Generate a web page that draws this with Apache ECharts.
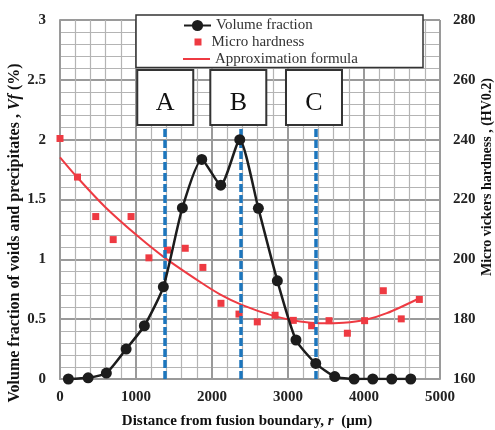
<!DOCTYPE html>
<html>
<head>
<meta charset="utf-8">
<script src="https://cdn.jsdelivr.net/npm/echarts@6/dist/echarts.min.js"></script>
<style>
  html, body { margin: 0; padding: 0; background: #fff; }
  #chart { width: 495px; height: 430px; }
</style>
</head>
<body>
<div id="chart"></div>
<script>
// Volume fraction of voids and precipitates (%) vs distance from fusion boundary (um)
const volR  = [110, 370, 610, 870, 1110, 1360, 1610, 1865, 2115, 2365, 2610, 2860, 3105, 3365, 3615, 3870, 4115, 4365, 4615];
const volVf = [0.0, 0.01, 0.05, 0.25, 0.445, 0.77, 1.43, 1.835, 1.62, 2.0, 1.426, 0.82, 0.326, 0.13, 0.02, 0.0, 0.0, 0.0, 0.0];

// Micro Vickers hardness (HV0.2)
const hardR  = [0, 230, 470, 700, 935, 1170, 1415, 1648, 1880, 2118, 2355, 2596, 2830, 3070, 3311, 3540, 3781, 4008, 4254, 4490, 4728];
const hardHV = [240.4, 227.5, 214.3, 206.6, 214.3, 200.5, 203.1, 203.7, 197.3, 185.3, 181.7, 179.1, 181.3, 179.6, 177.8, 179.5, 175.3, 179.5, 189.5, 180.1, 186.6];

// Approximation formula curve for the hardness
const fitR  = [0, 220, 590, 1030, 1380, 1840, 2105, 2400, 2810, 3160, 3420, 3730, 4010, 4300, 4730];
const fitHV = [234.1, 227.6, 217.6, 207.6, 200.5, 192.5, 188.3, 184.7, 181.1, 179.2, 178.6, 178.8, 179.7, 182.0, 187.0];

// Zone markers A, B, C
const zoneNames = ['A', 'B', 'C'];
const zoneLineR = [1382, 2382, 3368];
const zoneBoxR  = [1385, 2346, 3342];
const zoneLineTop = 2.12;   // Vf where the dashed lines end (box bottom)
const zoneBoxVf   = 2.352;  // Vf of the box centre

// Tick values
const xTicks = { min: 0, max: 5000, interval: 1000 };
const vfTicks = { min: 0, max: 3, interval: 0.5 };
const hvTicks = { min: 160, max: 280, interval: 20 };

const SERIF = '"Liberation Serif", "Times New Roman", serif';
const RED = '#ee3a42';
const BLACK = '#1c1c1c';
const BLUE = '#1c76bd';

const chart = echarts.init(document.getElementById('chart'), null, { renderer: 'canvas' });

const zip = (a, b) => a.map((v, i) => [v, b[i]]);
const plain = v => String(v);

const labelStyle = { fontFamily: SERIF, fontSize: 15, fontWeight: 'bold', color: '#222', formatter: plain };
const majorLine = { show: true, lineStyle: { color: '#9a9a9a', width: 2 } };
const minorLine = { show: true, lineStyle: { color: '#b4b4b4', width: 1.2 } };

const legendText = { fontFamily: SERIF, fontSize: 15, color: '#333' };

const option = {
  animation: false,
  backgroundColor: '#fff',
  grid: { left: 60, top: 20, right: 55, bottom: 51 },
  xAxis: {
    type: 'value',
    min: xTicks.min, max: xTicks.max, interval: xTicks.interval,
    axisLine: { show: true, onZero: false, lineStyle: { color: '#9a9a9a', width: 2 } },
    axisTick: { show: false },
    minorTick: { show: false, splitNumber: 5 },
    splitLine: majorLine,
    minorSplitLine: minorLine,
    axisLabel: Object.assign({ margin: 11 }, labelStyle)
  },
  yAxis: [
    {
      type: 'value',
      min: vfTicks.min, max: vfTicks.max, interval: vfTicks.interval,
      axisLine: { show: true, lineStyle: { color: '#9a9a9a', width: 2 } },
      axisTick: { show: false },
      minorTick: { show: false, splitNumber: 5 },
      splitLine: majorLine,
      minorSplitLine: minorLine,
      axisLabel: Object.assign({ margin: 14 }, labelStyle)
    },
    {
      type: 'value',
      position: 'right',
      min: hvTicks.min, max: hvTicks.max, interval: hvTicks.interval,
      axisLine: { show: false },
      axisTick: { show: false },
      splitLine: { show: false },
      axisLabel: Object.assign({ margin: 13 }, labelStyle)
    }
  ],
  legend: [
    {
      data: ['Volume fraction'], left: 183, top: 18, padding: 0,
      itemWidth: 27, itemHeight: 14, textStyle: legendText, z: 12, selectedMode: false
    },
    {
      data: [{ name: 'Micro hardness', icon: 'rect' }], left: 194.5, top: 34.5, padding: 0,
      itemWidth: 7, itemHeight: 7,
      textStyle: Object.assign({ padding: [0, 0, 0, 5] }, legendText), z: 12, selectedMode: false
    },
    {
      data: [{ name: 'Approximation formula', icon: 'rect' }], left: 183, top: 51.5, padding: 0,
      itemWidth: 27, itemHeight: 2, textStyle: legendText, z: 12, selectedMode: false
    }
  ],
  graphic: [
    {
      type: 'rect', z: 10, silent: true,
      shape: { x: 136, y: 15, width: 287, height: 52.5 },
      style: { fill: '#fff', stroke: '#333', lineWidth: 1.5 }
    },
    {
      type: 'text', z: 10, silent: true,
      x: 15, y: 233, rotation: Math.PI / 2,
      style: {
        text: '{n|Volume fraction of voids and precipitates , }{v|Vf}{n| (%)}',
        align: 'center', verticalAlign: 'middle',
        rich: {
          n: { fontFamily: SERIF, fontSize: 16, fontWeight: 'bold', fill: '#111' },
          v: { fontFamily: SERIF, fontSize: 16, fontWeight: 'bold', fontStyle: 'italic', fill: '#111' }
        }
      }
    },
    {
      type: 'text', z: 10, silent: true,
      x: 487, y: 177, rotation: Math.PI / 2,
      style: {
        text: 'Micro vickers hardness , (HV0.2)',
        align: 'center', verticalAlign: 'middle',
        font: 'bold 14px ' + SERIF, fill: '#111'
      }
    },
    {
      type: 'text', z: 10, silent: true,
      x: 247, y: 421,
      style: {
        text: '{n|Distance from fusion boundary, }{i|r}{n|  (μm)}',
        align: 'center', verticalAlign: 'middle',
        rich: {
          n: { fontFamily: SERIF, fontSize: 15, fontWeight: 'bold', fill: '#111' },
          i: { fontFamily: SERIF, fontSize: 15, fontStyle: 'italic', fontWeight: 'bold', fill: '#111' }
        }
      }
    }
  ],
  series: [
    {
      name: 'Approximation formula',
      type: 'line',
      yAxisIndex: 1,
      data: zip(fitR, fitHV),
      smooth: 0.3,
      symbol: 'none',
      lineStyle: { color: RED, width: 2 },
      itemStyle: { color: RED },
      z: 2
    },
    {
      name: 'zones',
      type: 'line',
      yAxisIndex: 0,
      data: [],
      z: 3,
      markLine: {
        silent: true,
        symbol: ['none', 'none'],
        label: { show: false },
        lineStyle: { color: BLUE, width: 3.5, type: [8, 3] },
        data: zoneLineR.map(r => [{ coord: [r, 0] }, { coord: [r, zoneLineTop] }])
      },
      markPoint: {
        silent: true,
        symbol: 'rect',
        symbolSize: [56, 55],
        itemStyle: { color: '#fff', borderColor: '#333', borderWidth: 2 },
        label: {
          show: true, position: 'inside', offset: [0, 6],
          fontFamily: SERIF, fontSize: 26, color: '#111',
          formatter: p => p.name
        },
        data: zoneNames.map((n, i) => ({ name: n, coord: [zoneBoxR[i], zoneBoxVf] }))
      }
    },
    {
      name: 'Micro hardness',
      type: 'scatter',
      yAxisIndex: 1,
      data: zip(hardR, hardHV),
      symbol: 'rect',
      symbolSize: 7,
      itemStyle: { color: RED, opacity: 1 },
      z: 4
    },
    {
      name: 'Volume fraction',
      type: 'line',
      yAxisIndex: 0,
      data: zip(volR, volVf),
      smooth: 0.2,
      symbol: 'circle',
      symbolSize: 11,
      showAllSymbol: true,
      lineStyle: { color: BLACK, width: 2.5 },
      itemStyle: { color: BLACK },
      z: 5
    }
  ]
};

chart.setOption(option);
</script>
</body>
</html>
